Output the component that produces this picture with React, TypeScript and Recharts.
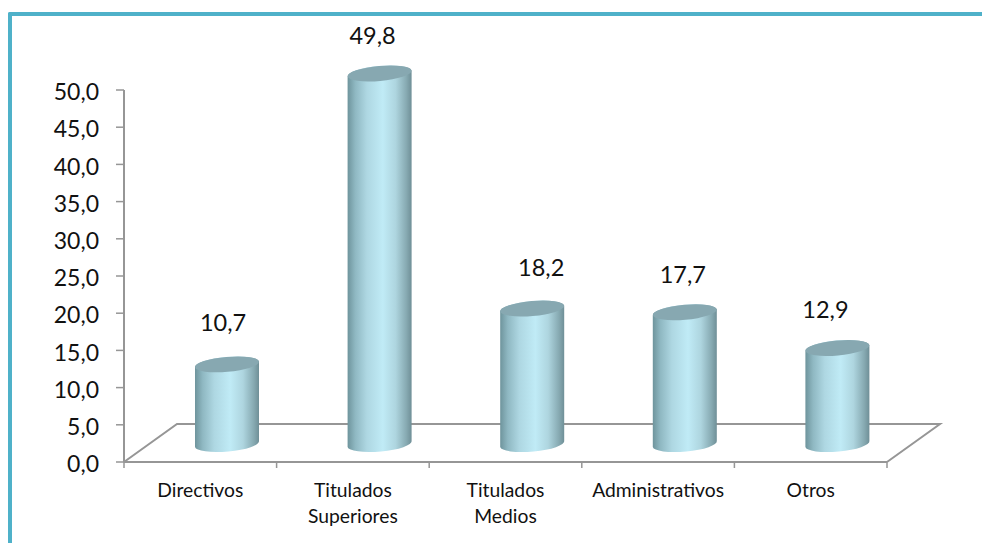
import React from 'react';
import { BarChart, Bar, XAxis, YAxis, LabelList } from 'recharts';

const categories = ['Directivos', 'Titulados Superiores', 'Titulados Medios', 'Administrativos', 'Otros'];
const values = [10.7, 49.8, 18.2, 17.7, 12.9];
const yTicks = [0, 5, 10, 15, 20, 25, 30, 35, 40, 45, 50];

const data = categories.map((name, i) => ({ name, value: values[i] }));

// chart box
const LEFT = 124;
const RIGHT = 887;
const TOP = 90;
const BOTTOM = 462;
const BAND = (RIGHT - LEFT) / categories.length;

// fake 3D: bars sit back on the floor
const DEPTH_X = 27;
const DEPTH_Y = 18;
const AXIS_COLOR = '#969696';
const FONT = 'Lato, "Open Sans", sans-serif';

// the data labels were placed by hand in the original
const labelNudge = [
  [-4, -42],
  [-7, -38],
  [9, -42],
  [-2, -38],
  [-12, -39],
];

const Cylinder = (props: any) => {
  const { x, y, width, height } = props;
  const cx = x + width / 2 + DEPTH_X;
  const r = width / 2;
  const top = y - DEPTH_Y;
  const bot = y + height - DEPTH_Y;
  const tilt = 3;
  const body = [
    `M${cx - r},${top + tilt}`,
    `L${cx - r},${bot + tilt}`,
    `A${r},7.5 -5 0 0 ${cx + r},${bot - tilt}`,
    `L${cx + r},${top - tilt}`,
    `A${r},7.5 -5 0 0 ${cx - r},${top + tilt}`,
    'Z',
  ].join(' ');
  return (
    <g>
      <path d={body} fill="url(#cyl)" />
      <ellipse cx={cx} cy={top} rx={r} ry={7.5} fill="#87a8b1" transform={`rotate(-5 ${cx} ${top})`} />
    </g>
  );
};

const ValueLabel = (props: any) => {
  const { x, y, width, value, index } = props;
  const [dx, dy] = labelNudge[index];
  return (
    <text
      x={x + width / 2 + DEPTH_X + dx}
      y={y - DEPTH_Y + dy}
      textAnchor="middle"
      dominantBaseline="central"
      fontSize={23.5}
      fontFamily={FONT}
      fill="#111"
    >
      {value.toFixed(1).replace('.', ',')}
    </text>
  );
};

const CategoryTick = (props: any) => {
  const { x, payload, index } = props;
  const words = payload.value.split(' ');
  return (
    <g>
      <line x1={x - BAND / 2} x2={x - BAND / 2} y1={BOTTOM} y2={BOTTOM + 6} stroke={AXIS_COLOR} strokeWidth={1.5} />
      {index === categories.length - 1 && (
        <line x1={x + BAND / 2} x2={x + BAND / 2} y1={BOTTOM} y2={BOTTOM + 6} stroke={AXIS_COLOR} strokeWidth={1.5} />
      )}
      <text textAnchor="middle" fontSize={19.3} fontFamily={FONT} fill="#111">
        {words.map((w: string, i: number) => (
          <tspan key={w} x={x} y={BOTTOM + 35 + i * 26}>
            {w}
          </tspan>
        ))}
      </text>
    </g>
  );
};

export default function App() {
  const floorBack = BOTTOM - 38;
  return (
    <div style={{ position: 'absolute', left: 0, top: 0, width: 982, height: 543, overflow: 'hidden', background: '#fff' }}>
      <div
        style={{
          position: 'absolute',
          left: 8,
          top: 12,
          width: 1000,
          height: 600,
          borderTop: '4.5px solid #4fb1c9',
          borderLeft: '4.5px solid #4fb1c9',
          borderTopLeftRadius: 2,
        }}
      />
      <div style={{ position: 'absolute', left: 0, top: 0 }}>
        <BarChart
          width={982}
          height={543}
          data={data}
          margin={{ left: LEFT - 70, right: 982 - RIGHT, top: TOP, bottom: 543 - BOTTOM - 70 }}
          barSize={64}
        >
          <defs>
            <linearGradient id="cyl" x1="0" y1="0" x2="1" y2="0">
              <stop offset="0" stopColor="#6e949c" />
              <stop offset="0.12" stopColor="#8fb8c2" />
              <stop offset="0.3" stopColor="#aed7e2" />
              <stop offset="0.55" stopColor="#c0ebf6" />
              <stop offset="0.75" stopColor="#aed5df" />
              <stop offset="0.92" stopColor="#86a9b1" />
              <stop offset="1" stopColor="#6f8f97" />
            </linearGradient>
          </defs>
          <path
            d={`M${LEFT},${BOTTOM} L${LEFT + 53},${floorBack} L${RIGHT + 53},${floorBack} L${RIGHT},${BOTTOM}`}
            fill="none"
            stroke={AXIS_COLOR}
            strokeWidth={2}
          />
          <XAxis
            dataKey="name"
            interval={0}
            height={70}
            axisLine={{ stroke: AXIS_COLOR, strokeWidth: 2 }}
            tickLine={false}
            tick={<CategoryTick />}
          />
          <YAxis
            domain={[0, 50]}
            ticks={yTicks}
            width={70}
            interval={0}
            tickSize={8}
            tickMargin={17}
            axisLine={{ stroke: AXIS_COLOR, strokeWidth: 2 }}
            tickLine={{ stroke: AXIS_COLOR, strokeWidth: 1.5 }}
            tick={{ fontSize: 23, fontFamily: FONT, fill: '#111', dy: 2 }}
            tickFormatter={(v: number) => v.toFixed(1).replace('.', ',')}
          />
          <Bar dataKey="value" shape={<Cylinder />} isAnimationActive={false}>
            <LabelList dataKey="value" content={<ValueLabel />} />
          </Bar>
        </BarChart>
      </div>
    </div>
  );
}
